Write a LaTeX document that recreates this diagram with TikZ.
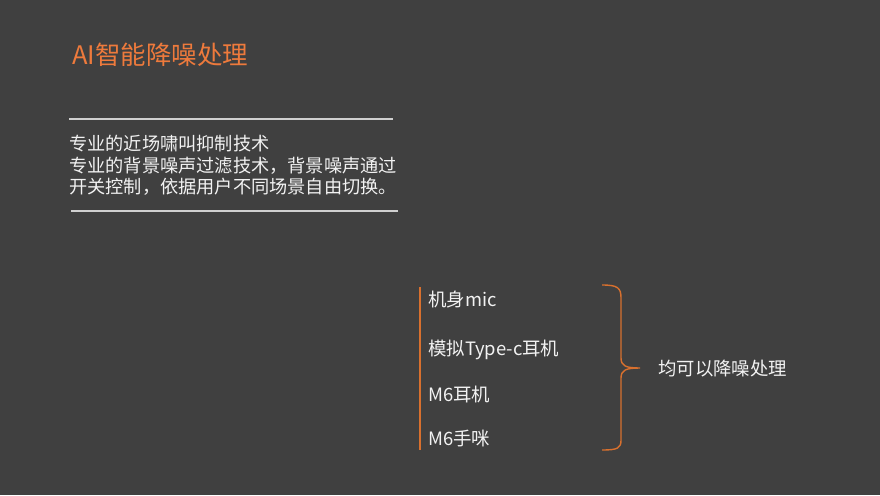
\documentclass[tikz,border=0pt]{standalone}
\usepackage{fontspec}
\setmainfont{Noto Sans CJK SC}
\definecolor{bg}{HTML}{404040}
\definecolor{accent}{HTML}{EE7A3C}
\definecolor{brace}{HTML}{D8702E}
\definecolor{txt}{HTML}{F2F2F2}
\definecolor{rule}{HTML}{D0D0D0}
\tikzset{
  titletext/.style={anchor=base west, inner sep=0pt, text=accent, font=\fontsize{25.5}{30}\selectfont},
  bodytext/.style={anchor=base west, inner sep=0pt, text=txt, font=\fontsize{18.2}{22}\selectfont},
  itemtext/.style={anchor=base west, inner sep=0pt, text=txt, font=\fontsize{18.4}{22}\selectfont},
  ruleline/.style={draw=rule, line width=1.2pt},
  orangeline/.style={draw=brace, line width=1.4pt},
}
\begin{document}
\begin{tikzpicture}[x=1pt,y=-1pt]
\fill[bg] (0,0) rectangle (880,495);
\useasboundingbox (0,0) rectangle (880,495);

\node[titletext] (title) at (72,64) {AI智能降噪处理};

\coordinate (r1a) at (69,119);
\coordinate (r1b) at (393,119);
\draw[ruleline] (r1a) -- (r1b);

\node[bodytext] (l1) at (69,150) {专业的近场啸叫抑制技术};
\node[bodytext] (l2) at (69,172) {专业的背景噪声过滤技术，背景噪声通过};
\node[bodytext] (l3) at (69,193) {开关控制，依据用户不同场景自由切换。};

\coordinate (r2a) at (71,211);
\coordinate (r2b) at (398,211);
\draw[ruleline] (r2a) -- (r2b);

\coordinate (va) at (420,287);
\coordinate (vb) at (420,450);
\draw[orangeline] (va) -- (vb);

\node[itemtext] (i1) at (428,306) {机身mic};
\node[itemtext] (i2) at (428,355) {模拟Type-c耳机};
\node[itemtext] (i3) at (428,401) {M6耳机};
\node[itemtext] (i4) at (428,445) {M6手咪};

\coordinate (btop) at (602,285);
\coordinate (btip) at (640,368);
\coordinate (bbot) at (602,450);
\draw[orangeline] (btop) .. controls (618,285) and (621,288) .. (621,298) -- (621,358)
  .. controls (621,366) and (626,368) .. (btip)
  .. controls (626,368) and (621,370) .. (621,378) -- (621,440)
  .. controls (621,448) and (618,450) .. (bbot);

\node[itemtext] (res) at (658,375) {均可以降噪处理};
\end{tikzpicture}
\end{document}
